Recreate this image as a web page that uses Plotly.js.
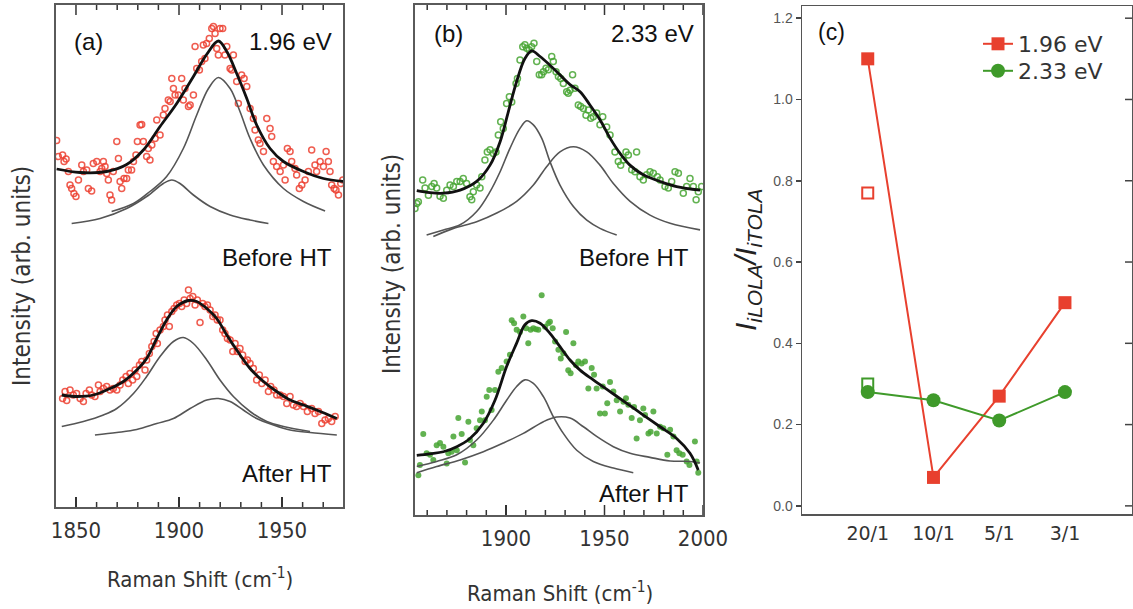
<!DOCTYPE html>
<html><head><meta charset="utf-8">
<script src="https://cdn.plot.ly/plotly-3.0.1.min.js"></script>
<style>html,body{margin:0;padding:0;background:#fff}#plot{width:1133px;height:609px}</style>
</head><body><div id="plot"></div>
<script>
// ---------- Panel (a): 1.96 eV ----------
const aBeforeX = [1840.6,1841.4,1843.5,1844.2,1845.2,1846.3,1847.1,1847.9,1849.0,1850.0,1851.2,1852.8,1853.6,1855.2,1856.0,1857.6,1858.4,1860.1,1861.7,1862.5,1863.3,1864.1,1864.9,1865.7,1866.5,1867.3,1868.1,1869.8,1870.6,1871.4,1872.2,1873.3,1874.6,1875.4,1877.0,1877.9,1879.1,1879.8,1881.1,1881.9,1882.7,1884.3,1885.1,1885.9,1886.8,1888.4,1889.2,1890.8,1892.4,1893.2,1894.8,1895.7,1896.5,1897.3,1898.1,1899.7,1901.3,1902.1,1902.9,1904.6,1905.4,1907.0,1907.8,1908.6,1909.9,1911.0,1911.8,1912.6,1913.4,1914.7,1915.9,1916.7,1917.5,1918.3,1919.1,1919.9,1921.2,1922.3,1923.2,1924.8,1925.6,1926.4,1928.0,1928.8,1930.4,1931.6,1932.9,1934.5,1936.1,1936.9,1938.5,1939.3,1941.0,1942.6,1944.2,1945.0,1945.8,1947.4,1949.1,1950.7,1951.5,1952.6,1953.9,1954.7,1956.3,1957.1,1958.4,1959.6,1961.2,1962.8,1964.4,1966.0,1966.8,1968.5,1970.1,1971.4,1972.5,1973.3,1974.1,1975.3,1976.2,1977.4,1978.5,1979.5];
const aBeforeY = [73.3,70.1,70.4,69.1,69.6,67.1,64.4,63.7,62.7,62.1,65.4,68.4,67.1,67.4,63.7,63.2,68.7,69.1,67.1,67.7,69.1,68.1,66.7,65.4,62.4,61.4,67.1,73.1,69.7,65.1,63.7,65.7,65.7,67.4,67.4,69.1,70.4,73.1,76.4,76.5,73.1,70.1,71.7,69.4,72.4,73.7,77.4,74.4,78.4,79.7,81.4,81.1,85.7,83.7,82.4,82.4,85.7,81.4,83.7,80.1,80.4,82.4,92.1,87.7,87.4,89.1,92.4,89.7,92.7,93.7,95.7,96.1,94.7,91.7,90.4,95.7,95.7,90.4,92.1,87.7,87.4,90.4,85.1,80.7,86.4,85.7,84.1,79.7,77.7,75.4,73.4,72.7,71.1,77.7,75.7,74.1,69.1,68.1,67.1,68.4,65.4,71.7,71.1,69.1,67.7,66.4,63.7,64.4,65.4,67.1,71.4,68.4,67.1,69.1,68.1,71.1,69.1,67.1,64.4,63.7,63.4,62.4,64.7,65.4];
const aBeforeFitX = [1840.6,1852.0,1864.9,1874.6,1882.7,1890.8,1898.9,1907.0,1913.4,1919.1,1923.2,1928.0,1932.9,1937.7,1944.2,1950.7,1960.4,1970.1,1979.8];
const aBeforeFitY = [67.6,66.9,67.1,68.5,71.4,76.1,80.7,86.1,90.5,93.2,91.1,86.7,81.7,76.4,71.7,69.1,67.1,65.7,65.1];
const aBeforeP1X = [1867.3,1877.9,1885.9,1894.0,1902.1,1908.6,1914.3,1919.1,1924.8,1929.6,1934.5,1941.0,1950.7,1960.4,1970.9];
const aBeforeP1Y = [59.1,60.7,63.1,66.1,71.7,78.4,83.7,85.9,83.7,79.1,73.7,68.4,63.7,61.1,59.2];
const aBeforeP2X = [1847.9,1861.7,1874.6,1884.3,1892.4,1896.5,1900.5,1907.0,1915.1,1924.8,1934.5,1943.4];
const aBeforeP2Y = [56.7,57.7,59.7,62.1,64.7,65.4,64.7,62.4,60.1,58.4,57.4,56.7];

const aAfterX = [1843.5,1844.7,1845.5,1847.1,1848.7,1850.3,1852.0,1853.6,1854.9,1856.5,1857.6,1859.2,1860.9,1861.7,1863.3,1864.9,1866.5,1868.1,1869.8,1871.4,1872.7,1874.3,1875.4,1876.2,1877.5,1878.7,1879.5,1880.8,1881.9,1883.5,1884.3,1885.6,1886.8,1887.9,1888.9,1889.5,1890.8,1892.4,1893.2,1894.4,1895.3,1896.5,1897.6,1898.9,1900.2,1901.3,1902.5,1903.7,1904.6,1905.4,1906.7,1907.8,1908.9,1910.2,1911.5,1912.6,1913.8,1915.1,1916.4,1917.5,1918.6,1919.9,1921.2,1922.3,1923.5,1924.8,1926.1,1927.2,1928.3,1929.6,1930.9,1932.1,1933.2,1934.5,1936.1,1937.7,1939.0,1940.2,1941.8,1943.4,1944.5,1946.1,1947.4,1949.1,1950.7,1952.3,1953.9,1955.5,1957.1,1958.8,1960.4,1962.3,1964.4,1966.0,1967.7,1969.3,1970.9,1972.5,1974.1,1975.8];
const aAfterY = [21.7,23.1,21.3,23.4,22.4,22.7,21.7,21.1,22.7,23.4,22.4,22.1,24.4,23.1,23.7,24.1,23.4,23.7,23.4,24.4,25.4,26.1,24.7,26.7,25.4,27.4,26.1,28.4,29.1,27.4,29.4,30.7,32.1,33.1,34.7,32.7,35.4,36.1,37.4,38.4,36.1,39.1,39.7,40.4,40.7,40.1,41.4,40.7,43.4,41.7,42.1,40.4,41.4,36.9,40.7,40.1,40.4,39.4,38.1,38.4,37.4,37.4,35.4,34.7,33.7,33.4,31.1,32.7,31.1,31.7,30.4,29.1,29.4,28.7,27.7,25.4,26.4,24.7,25.4,23.1,24.1,23.4,22.4,22.4,22.1,20.7,22.1,20.4,20.1,20.7,20.1,19.1,19.7,18.7,19.1,16.7,17.4,17.7,17.1,18.1];
const aAfterFitX = [1843.1,1850.3,1858.4,1866.5,1873.0,1879.5,1884.3,1889.2,1894.0,1898.9,1904.6,1908.6,1913.5,1918.3,1923.2,1928.0,1934.5,1941.0,1947.4,1953.9,1960.4,1966.8,1976.6];
const aAfterFitY = [22.4,22.1,22.4,23.7,25.1,27.4,29.7,33.7,37.4,40.1,41.3,41.1,39.7,37.7,34.4,31.4,27.7,25.1,23.1,21.4,20.4,19.4,17.7];
const aAfterP1X = [1843.1,1853.6,1863.3,1869.8,1877.9,1884.3,1890.8,1897.3,1902.1,1907.0,1913.5,1919.9,1926.4,1934.5,1942.6,1950.7,1963.6];
const aAfterP1Y = [16.1,17.1,18.4,19.7,22.7,26.1,30.1,33.1,33.9,32.7,29.4,25.4,22.1,19.1,17.1,16.1,15.1];
const aAfterP2X = [1859.2,1869.8,1879.5,1889.2,1897.3,1905.4,1913.5,1919.1,1924.8,1931.2,1937.7,1945.8,1953.9,1963.6,1976.6];
const aAfterP2Y = [14.4,14.9,15.5,16.7,17.7,19.7,21.4,21.7,21.1,19.4,17.7,16.4,15.4,14.9,14.4];

// ---------- Panel (b): 2.33 eV ----------
const bBeforeX = [1853.8,1854.7,1855.5,1857.7,1858.9,1860.6,1862.3,1863.5,1864.8,1866.5,1868.2,1869.9,1871.6,1873.3,1875.0,1876.7,1878.3,1880.0,1881.7,1882.6,1883.4,1885.1,1886.8,1887.7,1889.3,1890.5,1891.9,1893.6,1894.9,1896.1,1897.3,1898.6,1900.3,1901.7,1902.9,1905.1,1905.8,1907.1,1908.5,1909.6,1910.5,1911.8,1913.0,1914.2,1915.6,1916.9,1918.1,1919.0,1920.3,1921.5,1923.2,1924.0,1925.4,1926.6,1927.8,1929.1,1930.8,1931.6,1932.5,1933.8,1935.0,1936.7,1937.9,1939.3,1940.6,1941.8,1943.0,1944.3,1946.0,1947.7,1949.1,1951.1,1952.8,1955.3,1957.0,1958.2,1959.6,1960.9,1962.1,1963.8,1965.5,1966.3,1968.0,1969.7,1971.4,1973.1,1974.8,1976.8,1978.2,1980.7,1982.4,1984.1,1985.8,1987.5,1990.0,1991.7,1993.4,1995.1,1996.5,1997.6,1999.3];
const bBeforeY = [60.1,61.1,61.4,65.7,64.1,62.7,64.4,65.0,64.1,62.5,62.1,63.7,64.7,64.4,65.4,65.4,66.0,65.0,62.4,61.8,63.4,64.7,64.1,66.3,69.6,71.2,71.6,70.9,71.2,74.5,77.1,75.8,80.7,82.0,81.0,84.6,85.6,89.2,91.8,92.2,91.5,91.2,91.8,92.5,88.9,86.3,86.3,86.9,87.6,87.3,89.9,88.9,86.9,86.0,85.6,84.6,83.0,82.7,83.3,86.3,83.7,80.4,80.1,79.7,78.4,79.4,77.8,78.1,78.8,76.5,78.1,76.1,74.5,71.2,69.3,68.6,69.6,71.2,70.6,67.7,67.3,71.2,66.3,65.7,66.7,67.3,67.0,66.3,65.7,64.4,64.1,65.4,67.3,67.0,63.1,64.4,66.0,64.4,61.8,63.4,64.4];
const bBeforeFitX = [1854.7,1861.4,1868.2,1876.7,1885.1,1891.9,1897.0,1901.2,1905.4,1909.6,1913.0,1917.3,1922.3,1927.4,1932.5,1937.6,1942.6,1947.7,1952.8,1957.9,1962.9,1969.7,1978.2,1986.6,1998.5];
const bBeforeFitY = [63.6,63.2,63.1,63.7,65.4,68.6,73.2,79.1,85.0,89.5,91.0,89.9,88.2,86.3,84.4,83.0,80.4,77.5,73.9,70.9,68.6,66.7,65.4,64.4,63.7];
const bBeforeP1X = [1859.7,1868.2,1876.7,1885.1,1891.9,1897.0,1902.0,1907.1,1910.5,1913.9,1918.1,1922.3,1927.4,1934.2,1941.0,1947.7,1956.2];
const bBeforeP1Y = [54.9,55.9,56.9,59.5,63.4,67.3,71.9,75.8,77.3,76.5,73.9,69.3,64.7,60.5,57.8,56.2,54.9];
const bBeforeP2X = [1863.1,1873.3,1885.1,1895.3,1905.4,1913.9,1920.6,1927.4,1934.2,1941.0,1947.7,1954.5,1963.0,1973.1,1983.3,1998.5];
const bBeforeP2Y = [54.6,56.2,57.5,59.2,61.5,64.7,68.3,71.2,72.2,71.2,68.6,65.0,61.5,58.8,57.2,55.9];

const bAfterX = [1855.5,1856.3,1858.0,1859.7,1861.4,1863.1,1864.8,1866.5,1868.2,1869.9,1870.7,1872.4,1873.3,1875.0,1875.8,1877.5,1879.2,1880.9,1881.7,1883.4,1885.1,1886.8,1887.7,1889.3,1890.2,1891.5,1892.7,1894.4,1896.1,1897.8,1900.3,1902.0,1902.9,1904.1,1905.4,1907.1,1908.8,1910.2,1911.3,1912.5,1913.9,1915.2,1916.4,1918.1,1919.8,1921.5,1922.3,1923.7,1924.9,1926.6,1927.8,1929.1,1930.5,1931.6,1932.8,1934.2,1935.5,1936.7,1938.4,1940.1,1941.8,1943.5,1944.7,1946.0,1947.7,1949.1,1950.2,1951.4,1952.8,1954.5,1956.2,1957.9,1959.6,1960.9,1962.1,1963.8,1965.0,1966.3,1968.0,1969.7,1970.6,1972.3,1973.4,1974.8,1976.5,1978.2,1979.9,1981.9,1983.3,1985.0,1986.6,1988.0,1989.7,1991.7,1993.1,1995.9,1996.8,1997.6];
const bAfterY = [7.8,9.8,15.9,12.1,11.8,10.8,13.7,14.1,13.4,10.1,12.1,12.4,15.4,12.7,19.0,15.9,10.3,18.3,14.7,13.7,17.0,18.6,20.3,18.6,23.2,24.5,20.6,24.5,28.1,28.8,30.1,31.4,38.2,37.6,36.3,35.9,38.9,36.6,33.7,36.3,36.6,36.4,36.3,43.1,36.9,37.6,37.9,36.6,34.0,32.4,30.7,31.7,35.9,28.4,27.8,33.7,29.4,30.1,29.7,30.1,24.8,28.8,27.5,24.8,19.9,25.2,19.9,21.9,26.1,24.2,22.5,20.3,22.2,22.9,21.6,19.0,21.2,15.0,18.6,20.9,19.6,16.0,16.3,20.3,16.0,17.3,17.0,11.8,16.7,15.4,12.7,12.1,11.8,10.5,9.8,14.4,10.5,8.3];
const bAfterFitX = [1854.7,1861.4,1868.2,1875.0,1881.7,1888.5,1894.4,1900.3,1905.4,1909.6,1913.0,1917.3,1922.3,1927.4,1932.5,1937.6,1944.3,1952.8,1961.3,1969.7,1978.2,1986.6,1993.4,1997.6];
const bAfterFitY = [11.7,12.0,12.4,13.4,15.0,18.0,22.5,29.1,33.7,37.3,38.1,37.6,35.6,33.0,30.4,28.4,26.5,24.2,21.9,19.6,17.3,15.0,12.1,8.8];
const bAfterP1X = [1854.7,1864.8,1875.0,1885.1,1893.6,1900.3,1905.4,1909.6,1913.9,1919.0,1924.0,1929.1,1935.9,1944.3,1954.5,1964.6];
const bAfterP1Y = [9.5,10.5,11.8,14.7,18.6,22.5,25.2,26.5,25.8,23.2,19.3,16.0,12.7,10.5,9.2,8.3];
const bAfterP2X = [1854.7,1864.8,1876.7,1888.5,1898.6,1908.8,1919.0,1925.7,1932.5,1939.3,1946.0,1954.5,1963.0,1973.1,1983.3,1993.4,1998.5];
const bAfterP2Y = [8.3,9.5,10.8,12.4,14.1,16.0,18.3,19.2,19.0,17.3,15.4,13.4,12.1,11.3,10.6,10.5,10.2];

// ---------- Panel (c): intensity ratio ----------
const ratioLabels = ['20/1','10/1','5/1','3/1'];
const ratio196 = [1.10, 0.07, 0.27, 0.50];
const ratio233 = [0.28, 0.26, 0.21, 0.28];
const openLabel = ['20/1'];
const open196 = [0.77];
const open233 = [0.30];
const yTicksC = [0.0, 0.2, 0.4, 0.6, 0.8, 1.0, 1.2];
const yTickTextC = ['0.0','0.2','0.4','0.6','0.8','1.0','1.2'];
const ramanTicks = [1850, 1900, 1950, 2000];
const ramanMinorTicks = [1850,1860,1870,1880,1890,1900,1910,1920,1930,1940,1950,1960,1970,1980,1990,2000];

// ---------- styling ----------
const W = 1133, H = 609;
const px = v => v / W;
const py = v => 1 - v / H;
const RED = '#e8402e', GREEN = '#3f9a2a', REDPT = 'rgba(236,64,48,0.85)', GREENPT = 'rgba(70,165,50,0.85)';
const FRAME = '#5a5a5a', TICK = '#333';
const condensed = '"DejaVu Sans Condensed", "Liberation Sans Narrow", sans-serif';
const sans = '"Liberation Sans", Arial, sans-serif';

function pts(x, y, xa, ya, open, color) {
  return {x, y, xaxis: xa, yaxis: ya, type: 'scatter', mode: 'markers', showlegend: false, hoverinfo: 'skip',
    marker: open ? {symbol: 'circle-open', size: 6, color, line: {width: 1.5, color}} : {symbol: 'circle', size: 6, color}};
}
function curve(x, y, xa, ya, color, width) {
  return {x, y, xaxis: xa, yaxis: ya, type: 'scatter', mode: 'lines', showlegend: false, hoverinfo: 'skip',
    line: {color, width, shape: 'spline', smoothing: 1}};
}

const traces = [
  pts(aBeforeX, aBeforeY, 'x', 'y', true, REDPT),
  pts(aAfterX, aAfterY, 'x', 'y', true, REDPT),
  curve(aBeforeP1X, aBeforeP1Y, 'x', 'y', '#555', 1.6),
  curve(aBeforeP2X, aBeforeP2Y, 'x', 'y', '#555', 1.6),
  curve(aAfterP1X, aAfterP1Y, 'x', 'y', '#555', 1.6),
  curve(aAfterP2X, aAfterP2Y, 'x', 'y', '#555', 1.6),
  curve(aBeforeFitX, aBeforeFitY, 'x', 'y', '#111', 2.8),
  curve(aAfterFitX, aAfterFitY, 'x', 'y', '#111', 2.8),

  pts(bBeforeX, bBeforeY, 'x2', 'y2', true, GREENPT),
  pts(bAfterX, bAfterY, 'x2', 'y2', false, GREENPT),
  curve(bBeforeP1X, bBeforeP1Y, 'x2', 'y2', '#555', 1.6),
  curve(bBeforeP2X, bBeforeP2Y, 'x2', 'y2', '#555', 1.6),
  curve(bAfterP1X, bAfterP1Y, 'x2', 'y2', '#555', 1.6),
  curve(bAfterP2X, bAfterP2Y, 'x2', 'y2', '#555', 1.6),
  curve(bBeforeFitX, bBeforeFitY, 'x2', 'y2', '#111', 2.8),
  curve(bAfterFitX, bAfterFitY, 'x2', 'y2', '#111', 2.8),

  {x: ratioLabels, y: ratio196, xaxis: 'x3', yaxis: 'y3', type: 'scatter', mode: 'lines+markers', name: '1.96 eV',
    legend: 'legend', line: {color: RED, width: 2}, marker: {symbol: 'square', size: 13, color: RED}},
  {x: ratioLabels, y: ratio233, xaxis: 'x3', yaxis: 'y3', type: 'scatter', mode: 'lines+markers', name: '2.33 eV',
    legend: 'legend2', line: {color: GREEN, width: 2}, marker: {symbol: 'circle', size: 14, color: GREEN}},
  {x: openLabel, y: open196, xaxis: 'x3', yaxis: 'y3', type: 'scatter', mode: 'markers', showlegend: false,
    marker: {symbol: 'square-open', size: 11, color: RED, line: {width: 2, color: RED}}},
  {x: openLabel, y: open233, xaxis: 'x3', yaxis: 'y3', type: 'scatter', mode: 'markers', showlegend: false,
    marker: {symbol: 'square-open', size: 11, color: GREEN, line: {width: 2, color: GREEN}}}
];

function ramanAxis(domain, range, anchor) {
  return {domain, range, anchor, showgrid: false, zeroline: false, showline: true, linecolor: FRAME, linewidth: 1.6,
    mirror: true, ticks: 'inside', ticklen: 10, tickwidth: 1.6, tickcolor: TICK,
    tickmode: 'array', tickvals: ramanTicks, ticktext: ramanTicks.map(String), ticklabelstandoff: 3,
    tickfont: {family: condensed, size: 22, color: '#333'}};
}
function intensityAxis(domain, range, anchor) {
  return {domain, range, anchor, showgrid: false, zeroline: false, showline: true, linecolor: FRAME, linewidth: 1.6,
    mirror: true, ticks: '', showticklabels: false};
}

// tick marks on top and bottom frame edges of the spectra panels (positions from the tick arrays)
function frameTicks(xref, yref, range) {
  const out = [];
  ramanMinorTicks.filter(t => t > range[0] && t <= range[1]).forEach(t => {
    const len = ramanTicks.includes(t) ? 10 : 5;
    [[0, len], [1, -len]].forEach(([anchor, l]) => out.push({
      type: 'line', xref, yref: yref + ' domain', x0: t, x1: t, ysizemode: 'pixel', yanchor: anchor, y0: 0, y1: l,
      line: {color: TICK, width: 1.5}, layer: 'above'}));
  });
  return out;
}
function rightTicks() {
  return yTicksC.map(v => ({type: 'line', xref: 'x3 domain', yref: 'y3', xsizemode: 'pixel', xanchor: 1, x0: 0, x1: -7,
    y0: v, y1: v, line: {color: '#444', width: 1.5}, layer: 'above'}));
}

const domA = [px(56), px(343)], rangeA = [1840.3, 1979.6];
const domB = [px(415), px(703)], rangeB = [1853.8, 2000];

const layout = {
  width: W, height: H, margin: {l: 0, r: 0, t: 0, b: 0}, paper_bgcolor: '#fff', plot_bgcolor: '#fff',
  showlegend: true,
  xaxis: ramanAxis(domA, rangeA, 'y'),
  yaxis: intensityAxis([py(507), py(5)], [0, 100.4], 'x'),
  xaxis2: ramanAxis(domB, rangeB, 'y2'),
  yaxis2: intensityAxis([py(515), py(5)], [0, 100], 'x2'),
  xaxis3: {domain: [px(802), px(1132)], anchor: 'y3', type: 'category', range: [-1.0, 4.02],
    showgrid: false, zeroline: false, showline: true, mirror: true, linecolor: '#555', linewidth: 1.5,
    ticks: '', ticklabelstandoff: 2, tickfont: {family: '"DejaVu Sans", sans-serif', size: 19, color: '#333'}},
  yaxis3: {domain: [py(514), py(6)], anchor: 'x3', range: [-0.02, 1.23], showgrid: false, zeroline: false,
    showline: true, mirror: true, linecolor: '#555', linewidth: 1.5, ticks: 'outside', ticklen: 5, tickwidth: 1.5, tickcolor: '#444',
    tickvals: yTicksC, ticktext: yTickTextC, tickfont: {family: sans, size: 14, color: '#555'}},
  shapes: [].concat(frameTicks('x', 'y', rangeA), frameTicks('x2', 'y2', rangeB), rightTicks()),
  legend: {x: px(978), y: py(44), xanchor: 'left', yanchor: 'middle', bgcolor: 'rgba(0,0,0,0)',
    font: {family: '"DejaVu Sans", sans-serif', size: 22, color: '#333'}},
  legend2: {x: px(978), y: py(71), xanchor: 'left', yanchor: 'middle', bgcolor: 'rgba(0,0,0,0)',
    font: {family: '"DejaVu Sans", sans-serif', size: 22, color: '#333'}},
  annotations: [
    {text: '(a)', x: px(72), y: py(41), xanchor: 'left', yanchor: 'middle'},
    {text: '1.96 eV', x: px(334), y: py(41), xanchor: 'right', yanchor: 'middle'},
    {text: 'Before HT', x: px(334), y: py(258), xanchor: 'right', yanchor: 'middle'},
    {text: 'After HT', x: px(334), y: py(473), xanchor: 'right', yanchor: 'middle'},
    {text: '(b)', x: px(432), y: py(33), xanchor: 'left', yanchor: 'middle'},
    {text: '2.33 eV', x: px(696), y: py(33), xanchor: 'right', yanchor: 'middle'},
    {text: 'Before HT', x: px(691), y: py(258), xanchor: 'right', yanchor: 'middle'},
    {text: 'After HT', x: px(691), y: py(493), xanchor: 'right', yanchor: 'middle'},
    {text: '(c)', x: px(816), y: py(32), xanchor: 'left', yanchor: 'middle', font: {family: sans, size: 23, color: '#111'}},
    {text: 'Raman Shift (cm<sup>-1</sup>)', x: px(200), y: py(578), xanchor: 'center', yanchor: 'middle', font: {family: condensed, size: 22, color: '#333'}},
    {text: 'Raman Shift (cm<sup>-1</sup>)', x: px(560), y: py(592), xanchor: 'center', yanchor: 'middle', font: {family: condensed, size: 22, color: '#333'}},
    {text: 'Intensity (arb. units)', x: px(22), y: py(276), textangle: -90, xanchor: 'center', yanchor: 'middle', font: {family: condensed, size: 24, color: '#333'}},
    {text: 'Intensity (arb. units)', x: px(392), y: py(264), textangle: -90, xanchor: 'center', yanchor: 'middle', font: {family: condensed, size: 24, color: '#333'}},
    {text: '<i>I</i><sub><i>iLOLA</i></sub><i>/I</i><sub><i>iTOLA</i></sub>', x: px(748), y: py(260), textangle: -90, xanchor: 'center', yanchor: 'middle', font: {family: sans, size: 30, color: '#222'}}
  ].map(a => Object.assign({xref: 'paper', yref: 'paper', showarrow: false, font: {family: sans, size: 24, color: '#111'}}, a))
};

Plotly.newPlot('plot', traces, layout, {displayModeBar: false, staticPlot: true});
</script></body></html>
